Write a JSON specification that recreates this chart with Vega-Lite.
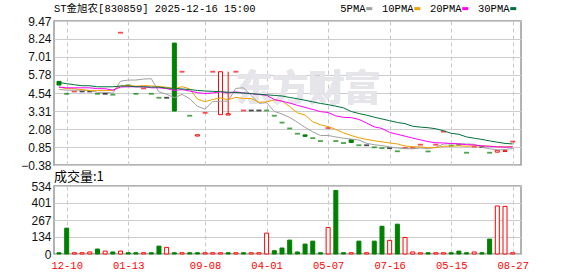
{
  "$schema": "https://vega.github.io/schema/vega-lite/v6.json",
  "background": "white",
  "padding": {"left": 19, "top": 2, "right": 5, "bottom": 0},
  "config": {
    "view": {"stroke": "#999999", "strokeWidth": 1.5},
    "scale": {"continuousPadding": 0},
    "axis": {"domain": false, "ticks": false, "labelFont": "Liberation Sans", "labelFontSize": 12, "labelColor": "#111111", "gridColor": "#cccccc", "gridWidth": 1, "labelFlush": false, "labelOverlap": false}
  },
  "datasets": {
    "k": [
      {"i":0,"o":5.34,"h":5.34,"l":5.09,"c":5.09,"k":"down","v":10,"vk":"down","5PMA":4.79,"10PMA":4.95,"20PMA":4.95,"30PMA":5.27},
      {"i":1,"o":4.49,"h":4.49,"l":4.49,"c":4.49,"k":"down","v":203,"vk":"down","5PMA":4.74,"10PMA":4.84,"20PMA":4.90,"30PMA":5.18},
      {"i":2,"o":4.65,"h":4.65,"l":4.65,"c":4.65,"k":"up","v":10,"vk":"up","5PMA":4.74,"10PMA":4.84,"20PMA":4.90,"30PMA":5.11},
      {"i":3,"o":4.65,"h":4.65,"l":4.65,"c":4.65,"k":"flat","v":10,"vk":"up","5PMA":4.74,"10PMA":4.77,"20PMA":4.90,"30PMA":5.04},
      {"i":4,"o":4.65,"h":4.65,"l":4.65,"c":4.65,"k":"flat","v":16,"vk":"up","5PMA":4.71,"10PMA":4.72,"20PMA":4.90,"30PMA":5.04},
      {"i":5,"o":4.49,"h":4.49,"l":4.49,"c":4.49,"k":"down","v":39,"vk":"down","5PMA":4.59,"10PMA":4.72,"20PMA":4.84,"30PMA":4.97},
      {"i":6,"o":4.49,"h":4.49,"l":4.49,"c":4.49,"k":"flat","v":23,"vk":"up","5PMA":4.59,"10PMA":4.72,"20PMA":4.84,"30PMA":4.97},
      {"i":7,"o":4.43,"h":4.43,"l":4.43,"c":4.43,"k":"down","v":16,"vk":"down","5PMA":4.54,"10PMA":4.72,"20PMA":4.74,"30PMA":4.97},
      {"i":8,"o":8.67,"h":8.67,"l":8.67,"c":8.67,"k":"up","v":23,"vk":"up","5PMA":5.35,"10PMA":5.04,"20PMA":4.95,"30PMA":5.02},
      {"i":9,"o":5.07,"h":5.07,"l":5.07,"c":5.07,"k":"down","v":10,"vk":"down","5PMA":5.43,"10PMA":5.07,"20PMA":4.97,"30PMA":5.02},
      {"i":10,"o":4.49,"h":4.49,"l":4.49,"c":4.49,"k":"down","v":10,"vk":"down","5PMA":5.43,"10PMA":5.01,"20PMA":4.97,"30PMA":4.97},
      {"i":11,"o":4.86,"h":4.86,"l":4.86,"c":4.86,"k":"up","v":10,"vk":"up","5PMA":5.50,"10PMA":5.05,"20PMA":4.97,"30PMA":4.97},
      {"i":12,"o":4.49,"h":4.49,"l":4.49,"c":4.49,"k":"down","v":10,"vk":"down","5PMA":5.52,"10PMA":5.03,"20PMA":4.90,"30PMA":4.95},
      {"i":13,"o":4.22,"h":4.22,"l":4.22,"c":4.22,"k":"down","v":62,"vk":"down","5PMA":4.63,"10PMA":4.99,"20PMA":4.90,"30PMA":4.95},
      {"i":14,"o":4.22,"h":4.22,"l":4.22,"c":4.22,"k":"flat","v":52,"vk":"up","5PMA":4.46,"10PMA":4.94,"20PMA":4.85,"30PMA":4.88},
      {"i":15,"o":7.96,"h":7.96,"l":3.31,"c":3.31,"k":"down","v":10,"vk":"down","5PMA":4.22,"10PMA":4.83,"20PMA":4.72,"30PMA":4.86},
      {"i":16,"o":6.00,"h":6.00,"l":6.00,"c":6.00,"k":"up","v":10,"vk":"up","5PMA":4.45,"10PMA":4.98,"20PMA":4.78,"30PMA":4.82},
      {"i":17,"o":2.99,"h":2.99,"l":2.99,"c":2.99,"k":"down","v":10,"vk":"down","5PMA":4.15,"10PMA":4.83,"20PMA":4.68,"30PMA":4.78},
      {"i":18,"o":1.60,"h":1.69,"l":1.60,"c":1.69,"k":"up","v":10,"vk":"down","5PMA":3.64,"10PMA":4.13,"20PMA":4.57,"30PMA":4.72},
      {"i":19,"o":3.19,"h":3.19,"l":3.19,"c":3.19,"k":"up","v":10,"vk":"up","5PMA":3.44,"10PMA":3.95,"20PMA":4.51,"30PMA":4.68},
      {"i":20,"o":6.00,"h":6.00,"l":6.00,"c":6.00,"k":"up","v":10,"vk":"up","5PMA":3.97,"10PMA":4.10,"20PMA":4.55,"30PMA":4.66},
      {"i":21,"o":3.06,"h":6.00,"l":3.06,"c":6.00,"k":"up","v":10,"vk":"up","5PMA":3.97,"10PMA":4.21,"20PMA":4.63,"30PMA":4.63},
      {"i":22,"o":3.04,"h":6.00,"l":3.04,"c":3.13,"k":"up","v":10,"vk":"down","5PMA":4.00,"10PMA":4.08,"20PMA":4.55,"30PMA":4.60},
      {"i":23,"o":6.00,"h":6.00,"l":6.00,"c":6.00,"k":"up","v":10,"vk":"up","5PMA":4.86,"10PMA":4.25,"20PMA":4.62,"30PMA":4.58},
      {"i":24,"o":3.35,"h":3.35,"l":3.35,"c":3.35,"k":"up","v":10,"vk":"down","5PMA":4.90,"10PMA":4.17,"20PMA":4.55,"30PMA":4.54},
      {"i":25,"o":3.35,"h":3.35,"l":3.35,"c":3.35,"k":"flat","v":10,"vk":"up","5PMA":4.37,"10PMA":4.17,"20PMA":4.50,"30PMA":4.50},
      {"i":26,"o":3.35,"h":3.35,"l":3.35,"c":3.35,"k":"flat","v":10,"vk":"up","5PMA":3.84,"10PMA":3.91,"20PMA":4.44,"30PMA":4.46},
      {"i":27,"o":3.35,"h":3.35,"l":3.35,"c":3.35,"k":"down","v":164,"vk":"up","5PMA":3.88,"10PMA":3.94,"20PMA":4.39,"30PMA":4.42},
      {"i":28,"o":2.99,"h":2.99,"l":2.99,"c":2.99,"k":"down","v":26,"vk":"down","5PMA":3.28,"10PMA":4.07,"20PMA":4.10,"30PMA":4.38},
      {"i":29,"o":2.52,"h":2.52,"l":2.52,"c":2.52,"k":"down","v":47,"vk":"down","5PMA":3.11,"10PMA":4.00,"20PMA":3.98,"30PMA":4.34},
      {"i":30,"o":2.12,"h":2.12,"l":2.12,"c":2.12,"k":"down","v":109,"vk":"down","5PMA":2.87,"10PMA":3.62,"20PMA":3.86,"30PMA":4.24},
      {"i":31,"o":1.76,"h":1.76,"l":1.76,"c":1.76,"k":"down","v":16,"vk":"down","5PMA":2.55,"10PMA":3.19,"20PMA":3.70,"30PMA":4.15},
      {"i":32,"o":1.68,"h":1.68,"l":1.58,"c":1.58,"k":"down","v":78,"vk":"down","5PMA":2.19,"10PMA":3.04,"20PMA":3.56,"30PMA":4.05},
      {"i":33,"o":1.46,"h":1.46,"l":1.46,"c":1.46,"k":"down","v":101,"vk":"down","5PMA":1.89,"10PMA":2.58,"20PMA":3.42,"30PMA":3.94},
      {"i":34,"o":1.26,"h":1.26,"l":1.26,"c":1.26,"k":"down","v":10,"vk":"down","5PMA":1.64,"10PMA":2.37,"20PMA":3.27,"30PMA":3.83},
      {"i":35,"o":2.15,"h":2.15,"l":2.15,"c":2.15,"k":"up","v":208,"vk":"up","5PMA":1.64,"10PMA":2.25,"20PMA":3.21,"30PMA":3.75},
      {"i":36,"o":1.26,"h":1.26,"l":1.26,"c":1.26,"k":"down","v":499,"vk":"down","5PMA":1.54,"10PMA":2.05,"20PMA":2.98,"30PMA":3.64},
      {"i":37,"o":1.12,"h":1.12,"l":1.12,"c":1.12,"k":"down","v":10,"vk":"down","5PMA":1.45,"10PMA":1.82,"20PMA":2.88,"30PMA":3.53},
      {"i":38,"o":1.35,"h":1.35,"l":1.16,"c":1.16,"k":"down","v":10,"vk":"up","5PMA":1.39,"10PMA":1.64,"20PMA":2.86,"30PMA":3.28},
      {"i":39,"o":0.97,"h":0.97,"l":0.97,"c":0.97,"k":"down","v":101,"vk":"down","5PMA":1.33,"10PMA":1.48,"20PMA":2.74,"30PMA":3.14},
      {"i":40,"o":0.97,"h":0.97,"l":0.97,"c":0.97,"k":"flat","v":10,"vk":"up","5PMA":1.10,"10PMA":1.37,"20PMA":2.49,"30PMA":3.03},
      {"i":41,"o":0.83,"h":0.83,"l":0.83,"c":0.83,"k":"down","v":101,"vk":"down","5PMA":1.01,"10PMA":1.28,"20PMA":2.23,"30PMA":2.89},
      {"i":42,"o":0.77,"h":0.77,"l":0.77,"c":0.77,"k":"down","v":218,"vk":"down","5PMA":0.94,"10PMA":1.20,"20PMA":2.12,"30PMA":2.77},
      {"i":43,"o":0.77,"h":0.77,"l":0.77,"c":0.77,"k":"flat","v":107,"vk":"up","5PMA":0.86,"10PMA":1.13,"20PMA":1.85,"30PMA":2.65},
      {"i":44,"o":0.56,"h":0.56,"l":0.56,"c":0.56,"k":"down","v":234,"vk":"down","5PMA":0.78,"10PMA":1.06,"20PMA":1.72,"30PMA":2.53},
      {"i":45,"o":0.78,"h":0.78,"l":0.78,"c":0.78,"k":"up","v":130,"vk":"up","5PMA":0.74,"10PMA":0.92,"20PMA":1.59,"30PMA":2.45},
      {"i":46,"o":0.78,"h":0.78,"l":0.78,"c":0.78,"k":"up","v":16,"vk":"up","5PMA":0.73,"10PMA":0.87,"20PMA":1.46,"30PMA":2.27},
      {"i":47,"o":1.01,"h":1.01,"l":1.01,"c":1.01,"k":"up","v":10,"vk":"up","5PMA":0.78,"10PMA":0.86,"20PMA":1.34,"30PMA":2.21},
      {"i":48,"o":0.55,"h":0.55,"l":0.55,"c":0.55,"k":"down","v":10,"vk":"down","5PMA":0.74,"10PMA":0.80,"20PMA":1.22,"30PMA":2.17},
      {"i":49,"o":1.01,"h":1.01,"l":1.01,"c":1.01,"k":"up","v":10,"vk":"up","5PMA":0.83,"10PMA":0.80,"20PMA":1.14,"30PMA":2.10},
      {"i":50,"o":1.90,"h":1.90,"l":1.90,"c":1.90,"k":"up","v":10,"vk":"up","5PMA":1.05,"10PMA":0.90,"20PMA":1.13,"30PMA":1.96},
      {"i":51,"o":0.95,"h":0.95,"l":0.95,"c":0.95,"k":"down","v":10,"vk":"down","5PMA":1.08,"10PMA":0.91,"20PMA":1.09,"30PMA":1.79},
      {"i":52,"o":1.00,"h":1.00,"l":1.00,"c":1.00,"k":"down","v":23,"vk":"down","5PMA":1.08,"10PMA":0.93,"20PMA":1.06,"30PMA":1.72},
      {"i":53,"o":0.46,"h":0.46,"l":0.46,"c":0.46,"k":"down","v":10,"vk":"down","5PMA":1.06,"10PMA":0.90,"20PMA":1.01,"30PMA":1.54},
      {"i":54,"o":0.88,"h":0.88,"l":0.88,"c":0.88,"k":"up","v":16,"vk":"up","5PMA":1.04,"10PMA":0.93,"20PMA":0.99,"30PMA":1.45},
      {"i":55,"o":0.85,"h":0.85,"l":0.85,"c":0.85,"k":"flat","v":10,"vk":"down","5PMA":0.83,"10PMA":0.94,"20PMA":0.93,"30PMA":1.37},
      {"i":56,"o":0.46,"h":0.46,"l":0.46,"c":0.46,"k":"down","v":117,"vk":"down","5PMA":0.73,"10PMA":0.91,"20PMA":0.89,"30PMA":1.27},
      {"i":57,"o":0.50,"h":0.62,"l":0.50,"c":0.62,"k":"up","v":377,"vk":"up","5PMA":0.65,"10PMA":0.87,"20PMA":0.86,"30PMA":1.18},
      {"i":58,"o":0.55,"h":0.60,"l":0.55,"c":0.60,"k":"up","v":374,"vk":"up","5PMA":0.68,"10PMA":0.87,"20PMA":0.84,"30PMA":1.10},
      {"i":59,"o":1.22,"h":1.22,"l":1.22,"c":1.22,"k":"up","v":10,"vk":"up","5PMA":0.75,"10PMA":0.89,"20PMA":0.85,"30PMA":1.06}
    ]
  },
  "spacing": 21,
  "bounds": "flush",
  "vconcat": [
    {
      "width": 467,
      "height": 144,
      "title": {"text": "ST金旭农[830859] 2025-12-16 15:00", "anchor": "start", "frame": "group", "font": "Liberation Mono, Noto Sans CJK SC", "fontSize": 10.5, "fontWeight": "normal", "color": "#000000", "offset": 1},
      "data": {"name": "k"},
      "encoding": {
        "x": {"field": "i", "type": "quantitative", "scale": {"domain": [-0.65, 60.08], "nice": false, "zero": false, "padding": 0},
              "axis": {"values": [1, 9, 19, 27, 35, 43, 51, 59], "tickCount": 20, "labels": false, "grid": true, "gridDash": [4, 3], "gridColor": "#c8c8c8", "title": null}}
      },
      "layer": [
        {
          "mark": {"type": "text", "text": "东方财富", "font": "Noto Sans CJK SC", "fontSize": 36, "fontWeight": "bold", "color": "#e6e6ea", "align": "center", "baseline": "middle"},
          "encoding": {
            "x": {"datum": 32.4, "type": "quantitative"},
            "y": {"datum": 4.72, "type": "quantitative", "scale": {"domain": [-0.38, 9.47], "nice": false, "zero": false},
                  "axis": {"values": [-0.38, 0.85, 2.08, 3.31, 4.54, 5.78, 7.01, 8.24, 9.47], "tickCount": 20, "format": ".2f", "labelPadding": 3, "grid": true, "labelOverlap": false, "title": null}}
          }
        },
        {
          "transform": [{"filter": "datum.h > max(datum.o, datum.c) || datum.l < min(datum.o, datum.c)"}],
          "mark": {"type": "rule", "strokeWidth": 1},
          "encoding": {
            "y": {"field": "l", "type": "quantitative"},
            "y2": {"field": "h"},
            "color": {"condition": [{"test": "datum.k == 'up'", "value": "#ff0000"}, {"test": "datum.k == 'flat'", "value": "#000000"}], "value": "#008000"}
          }
        },
        {
          "transform": [{"filter": "datum.o != datum.c"}],
          "mark": {"type": "bar", "width": 4, "strokeWidth": 1, "orient": "vertical"},
          "encoding": {
            "y": {"field": "o", "type": "quantitative"},
            "y2": {"field": "c"},
            "fill": {"condition": {"test": "datum.k == 'up'", "value": "#ffffff"}, "value": "#008000"},
            "stroke": {"condition": {"test": "datum.k == 'up'", "value": "#ff0000"}, "value": "#008000"}
          }
        },
        {
          "transform": [{"filter": "datum.o == datum.c"}],
          "mark": {"type": "tick", "orient": "horizontal", "size": 5, "thickness": 1.8},
          "encoding": {
            "y": {"field": "c", "type": "quantitative"},
            "color": {"condition": [{"test": "datum.k == 'up'", "value": "#ff0000"}, {"test": "datum.k == 'flat'", "value": "#000000"}], "value": "#008000"}
          }
        },
        {
          "transform": [{"fold": ["5PMA", "10PMA", "20PMA", "30PMA"], "as": ["ma", "val"]}],
          "mark": {"type": "line", "strokeWidth": 1},
          "encoding": {
            "y": {"field": "val", "type": "quantitative"},
            "color": {"field": "ma", "type": "nominal",
                      "scale": {"domain": ["5PMA", "10PMA", "20PMA", "30PMA"], "range": ["#a0a0a0", "#f0a000", "#ff00ff", "#00703c"]},
                      "legend": {"orient": "none", "legendX": 310, "legendY": -18, "direction": "horizontal", "title": null, "symbolType": "stroke", "symbolSize": 36, "symbolStrokeWidth": 3, "labelFont": "Liberation Mono", "labelFontSize": 10.5, "labelColor": "#000000", "labelAlign": "right", "labelOffset": -9, "columnPadding": 2, "padding": 0}},
            "order": {"field": "i", "type": "quantitative"}
          }
        }
      ]
    },
    {
      "width": 467,
      "height": 68,
      "title": {"text": "成交量:1", "anchor": "start", "frame": "group", "font": "Noto Sans CJK SC", "fontSize": 13, "fontWeight": "normal", "color": "#000000", "offset": -4},
      "data": {"name": "k"},
      "mark": {"type": "bar", "width": 4, "strokeWidth": 1, "orient": "vertical"},
      "encoding": {
        "x": {"field": "i", "type": "quantitative", "scale": {"domain": [-0.65, 60.08], "nice": false, "zero": false, "padding": 0},
              "axis": {"values": [1, 9, 19, 27, 35, 43, 51, 59], "tickCount": 20, "grid": true, "gridDash": [4, 3], "gridColor": "#c8c8c8", "labelColor": "#ff0000", "labelFont": "Liberation Mono", "labelFontSize": 10.5, "labelPadding": 6, "title": null,
                       "labelExpr": "datum.value == 1 ? '12-10' : datum.value == 9 ? '01-13' : datum.value == 19 ? '09-08' : datum.value == 27 ? '04-01' : datum.value == 35 ? '05-07' : datum.value == 43 ? '07-16' : datum.value == 51 ? '05-15' : '08-27'"}},
        "y": {"field": "v", "type": "quantitative", "scale": {"domain": [0, 534], "nice": false},
              "axis": {"values": [0, 134, 267, 401, 534], "tickCount": 20, "labelPadding": 3, "grid": true, "labelOverlap": false, "title": null}},
        "y2": {"datum": 0},
        "fill": {"condition": {"test": "datum.vk == 'up'", "value": "#ffffff"}, "value": "#008000"},
        "stroke": {"condition": {"test": "datum.vk == 'up'", "value": "#ff0000"}, "value": "#008000"}
      }
    }
  ]
}
